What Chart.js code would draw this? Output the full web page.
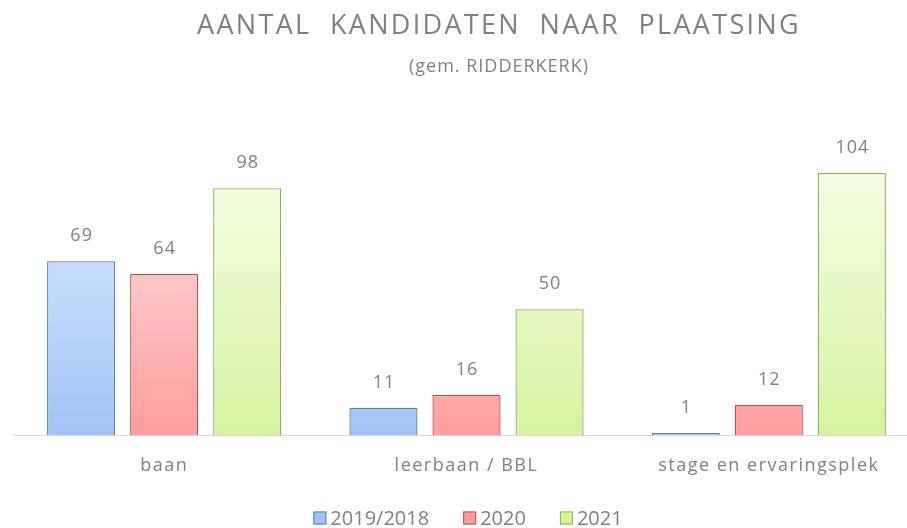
<!DOCTYPE html>
<html>
<head>
<meta charset="utf-8">
<script src="https://cdn.jsdelivr.net/npm/chart.js@4/dist/chart.umd.min.js"></script>
<style>
  html, body { margin: 0; padding: 0; background: #fff; }
  #wrap { width: 907px; height: 528px; position: relative; overflow: hidden; }
</style>
</head>
<body>
<div id="wrap"><canvas id="kandidatenChart" width="920" height="528"></canvas></div>
<script>
// --- gegevens uit de grafiek ---
const categories = ['baan', 'leerbaan / BBL', 'stage en ervaringsplek'];
const seriesNames = ['2019/2018', '2020', '2021'];
const values2019 = [69, 11, 1];
const values2020 = [64, 16, 12];
const values2021 = [98, 50, 104];

const titleText = 'AANTAL  KANDIDATEN  NAAR  PLAATSING';
const subtitleText = '(gem. RIDDERKERK)';

const FONT = "'Open Sans', 'DejaVu Sans', sans-serif";
const GREY = '#808080';

// kleurverloop per reeks (boven licht, onder verzadigd)
const palette = [
  { top: '#e0ebfc', bottom: '#9fc3f7', border: '#5b7bab' },
  { top: '#fde1e1', bottom: '#ff9d9d', border: '#b2524f' },
  { top: '#f4fde4', bottom: '#d5f49f', border: '#8fae55' }
];

function gradientFor(idx) {
  return function (ctx) {
    const chart = ctx.chart;
    const area = chart.chartArea;
    if (!area) return palette[idx].bottom;
    const el = ctx.element;
    const y0 = el && el.y !== undefined ? el.y : area.top;
    const g = chart.ctx.createLinearGradient(0, y0, 0, area.bottom);
    g.addColorStop(0, palette[idx].top);
    g.addColorStop(1, palette[idx].bottom);
    return g;
  };
}

// as-labels staan in het origineel wat ruimer gespatieerd
const spacingPlugin = {
  id: 'tickSpacing',
  beforeDraw(chart) { chart.ctx.letterSpacing = '1.5px'; }
};

// titel iets rechts van het midden, zoals in het origineel
const titlePlugin = {
  id: 'customTitle',
  afterDraw(chart) {
    const c = chart.ctx;
    c.save();
    c.fillStyle = GREY;
    c.textAlign = 'center';
    c.textBaseline = 'middle';
    c.font = "27px " + FONT;
    c.letterSpacing = '2.3px';
    c.fillText(titleText, 499, 26);
    c.font = "18px " + FONT;
    c.letterSpacing = '1px';
    c.fillText(subtitleText, 499, 67);
    c.restore();
  }
};

// legenda met ruime tussenafstand (Chart.js koppelt die aan de hoogte)
const legendPlugin = {
  id: 'customLegend',
  afterDraw(chart) {
    const c = chart.ctx;
    const box = 13, gapText = 4, gapItem = 34, cy = 518;
    c.save();
    c.letterSpacing = '0px';
    c.font = "20px " + FONT;
    c.textBaseline = 'middle';
    const widths = seriesNames.map(n => box + gapText + c.measureText(n).width);
    const total = widths.reduce((a, b) => a + b, 0) + gapItem * (widths.length - 1);
    let x = 468 - total / 2;
    seriesNames.forEach((n, i) => {
      c.fillStyle = palette[i].bottom;
      c.fillRect(x, cy - box / 2, box, box);
      c.strokeStyle = palette[i].border;
      c.lineWidth = 1;
      c.strokeRect(x + 0.5, cy - box / 2 + 0.5, box - 1, box - 1);
      c.fillStyle = GREY;
      c.fillText(n, x + box + gapText, cy + 1);
      x += widths[i] + gapItem;
    });
    c.restore();
  }
};

// waarden boven de staven
const valueLabels = {
  id: 'valueLabels',
  afterDatasetsDraw(chart) {
    const c = chart.ctx;
    c.save();
    c.fillStyle = GREY;
    c.font = "18px " + FONT;
    c.letterSpacing = '1px';
    c.textAlign = 'center';
    c.textBaseline = 'middle';
    chart.data.datasets.forEach((ds, i) => {
      chart.getDatasetMeta(i).data.forEach((bar, j) => {
        c.fillText(ds.data[j], bar.x + 0.5, bar.y - 25);
      });
    });
    c.restore();
  }
};

const datasets = [values2019, values2020, values2021].map((vals, i) => ({
  label: seriesNames[i],
  data: vals,
  backgroundColor: gradientFor(i),
  borderColor: palette[i].border,
  borderWidth: 1.3,
  borderSkipped: 'bottom',
  categoryPercentage: 0.824,
  barPercentage: 0.82
}));

new Chart(document.getElementById('kandidatenChart'), {
  type: 'bar',
  data: { labels: categories, datasets: datasets },
  plugins: [spacingPlugin, titlePlugin, valueLabels, legendPlugin],
  options: {
    responsive: false,
    animation: false,
    layout: { padding: { top: 173, left: 13, right: 0, bottom: 31 } },
    plugins: {
      title: { display: false },
      tooltip: { enabled: false },
      legend: { display: false }
    },
    scales: {
      x: {
        grid: { display: false, drawTicks: false },
        border: { display: true, color: '#d9d9d9', width: 1 },
        ticks: { color: GREY, font: { family: FONT, size: 18 }, padding: 20 }
      },
      y: {
        display: false,
        min: 0,
        max: 104
      }
    }
  }
});
</script>
</body>
</html>
